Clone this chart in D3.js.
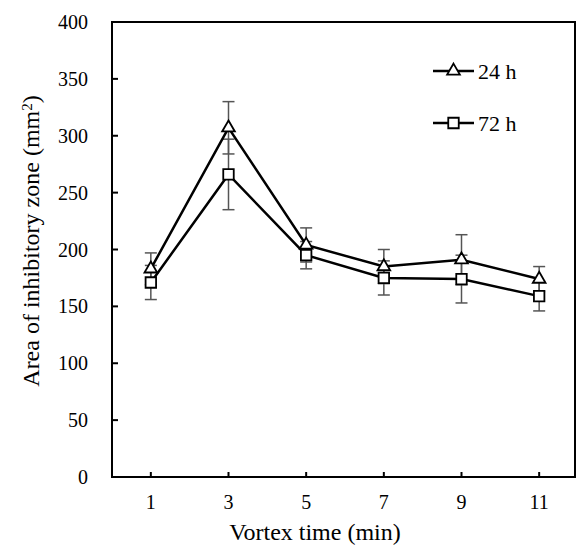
<!DOCTYPE html>
<html>
<head>
<meta charset="utf-8">
<script src="https://cdn.jsdelivr.net/npm/d3@7"></script>
<style>
body { margin: 0; background: #fff; }
</style>
</head>
<body>
<div id="chart"></div>
<script>
var vortexTimes = [1, 3, 5, 7, 9, 11];
var seriesNames = ["24 h", "72 h"];
var area24 = [183, 307, 204, 185, 191, 174];
var err24 = [14, 23, 15, 15, 22, 11];
var area72 = [171, 266, 195, 175, 174, 159];
var err72 = [15, 31, 12, 15, 21, 13];
var yTicks = [0, 50, 100, 150, 200, 250, 300, 350, 400];

var width = 577, height = 546;
var margin = {top: 22, right: 2, bottom: 69, left: 112};
var serif = "'Liberation Serif', Tinos, 'Noto Serif', 'DejaVu Serif', FreeSerif, 'Nimbus Roman', Times, serif";

var svg = d3.select("#chart").append("svg")
	.attr("width", width)
	.attr("height", height)
	.attr("font-family", serif)
	.style("font-family", serif);

var x = d3.scaleLinear().domain([0, 12]).range([margin.left, margin.left + 466]);
var y = d3.scaleLinear().domain([0, 400]).range([height - margin.bottom, margin.top]);

// frame
svg.append("rect")
	.attr("x", margin.left)
	.attr("y", margin.top)
	.attr("width", width - margin.right - margin.left)
	.attr("height", y(0) - margin.top)
	.attr("fill", "none")
	.attr("stroke", "#000")
	.attr("stroke-width", 2);

// y ticks (inward)
svg.selectAll(".ytick").data(yTicks).enter().append("line")
	.attr("x1", margin.left).attr("x2", margin.left + 6)
	.attr("y1", function(d){ return y(d); }).attr("y2", function(d){ return y(d); })
	.attr("stroke", "#000").attr("stroke-width", 2);
svg.selectAll(".ylab").data(yTicks).enter().append("text")
	.attr("x", 88)
	.attr("y", function(d){ return y(d); })
	.attr("dy", "0.35em")
	.attr("text-anchor", "end")
	.style("font-size", "20px")
	.text(function(d){ return d; });

// x ticks (inward)
svg.selectAll(".xtick").data(vortexTimes).enter().append("line")
	.attr("x1", function(d){ return x(d); }).attr("x2", function(d){ return x(d); })
	.attr("y1", y(0)).attr("y2", y(0) - 5)
	.attr("stroke", "#000").attr("stroke-width", 2);
svg.selectAll(".xlab").data(vortexTimes).enter().append("text")
	.attr("x", function(d){ return x(d); })
	.attr("y", y(0) + 32)
	.attr("text-anchor", "middle")
	.style("font-size", "20px")
	.text(function(d){ return d; });

svg.append("text")
	.attr("x", 315).attr("y", 540)
	.attr("text-anchor", "middle")
	.style("font-size", "24px")
	.text("Vortex time (min)");

var ylab = svg.append("text")
	.attr("transform", "translate(39," + 241 + ") rotate(-90)")
	.attr("text-anchor", "middle")
	.style("font-size", "24px");
ylab.append("tspan").text("Area of inhibitory zone (mm");
ylab.append("tspan").attr("dy", "-0.45em").style("font-size", "15px").text("2");
ylab.append("tspan").attr("dy", "0.3em").text(")");

var series = [
	{name: seriesNames[0], values: area24, errs: err24, shape: d3.symbolTriangle, size: 70},
	{name: seriesNames[1], values: area72, errs: err72, shape: d3.symbolSquare, size: 110}
];

// error bars
series.forEach(function(s){
	var g = svg.append("g").attr("stroke", "#555").attr("stroke-width", 1.5);
	vortexTimes.forEach(function(t, i){
		var cx = x(t), top = y(s.values[i] + s.errs[i]), bot = y(s.values[i] - s.errs[i]);
		g.append("line").attr("x1", cx).attr("x2", cx).attr("y1", top).attr("y2", bot);
		g.append("line").attr("x1", cx - 6).attr("x2", cx + 6).attr("y1", top).attr("y2", top);
		g.append("line").attr("x1", cx - 6).attr("x2", cx + 6).attr("y1", bot).attr("y2", bot);
	});
});

var line = d3.line()
	.x(function(d){ return x(d[0]); })
	.y(function(d){ return y(d[1]); });

series.forEach(function(s){
	svg.append("path")
		.datum(vortexTimes.map(function(t, i){ return [t, s.values[i]]; }))
		.attr("d", line)
		.attr("fill", "none")
		.attr("stroke", "#000")
		.attr("stroke-width", 2.5);
});

series.forEach(function(s){
	svg.selectAll(null).data(s.values).enter().append("path")
		.attr("d", d3.symbol().type(s.shape).size(s.size))
		.attr("transform", function(d, i){ return "translate(" + x(vortexTimes[i]) + "," + y(d) + ")"; })
		.attr("fill", "#fff")
		.attr("stroke", "#000")
		.attr("stroke-width", 1.8);
});

// legend
var legendY = [71, 123];
series.forEach(function(s, i){
	var g = svg.append("g").attr("transform", "translate(433," + legendY[i] + ")");
	g.append("line").attr("x1", 0).attr("x2", 41).attr("y1", 0).attr("y2", 0)
		.attr("stroke", "#000").attr("stroke-width", 2.5);
	g.append("path")
		.attr("d", d3.symbol().type(s.shape).size(s.size))
		.attr("transform", "translate(20.5,0)")
		.attr("fill", "#fff").attr("stroke", "#000").attr("stroke-width", 1.8);
	g.append("text")
		.attr("x", 45).attr("y", 0).attr("dy", "0.35em")
		.style("font-size", "22px")
		.text(s.name);
});
</script>
</body>
</html>
